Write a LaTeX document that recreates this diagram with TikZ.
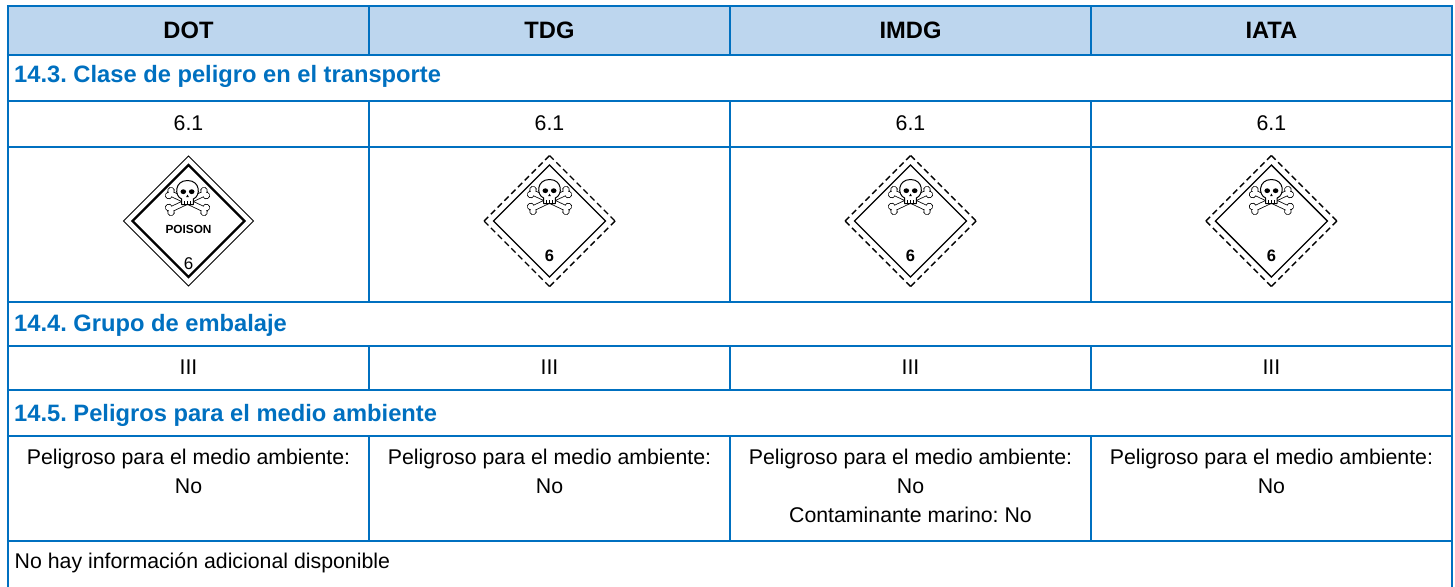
\documentclass[tikz,border=0pt]{standalone}
\usepackage{fontspec}
\setmainfont{Liberation Sans}
\frenchspacing
\definecolor{tblue}{RGB}{0,112,192}
\definecolor{hfill}{RGB}{189,214,238}
\tikzset{
  skullpic/.pic={
    \begin{scope}[yscale=-1]
      % bones: outline pass
      \foreach \ang in {25.4,-25.4}{
        \begin{scope}[shift={(0,-9.5)}, rotate=\ang]
          \foreach \sx in {-19.5,19.5}{\foreach \sy in {-2.6,2.6}{
            \filldraw[draw=black, fill=black, line width=1.6pt] (\sx,\sy) circle (2.9pt);}}
          \filldraw[draw=black, fill=black, line width=1.6pt] (-19.5,-2.1) rectangle (19.5,2.1);
        \end{scope}}
      % bones: white pass
      \foreach \ang in {25.4,-25.4}{
        \begin{scope}[shift={(0,-9.5)}, rotate=\ang]
          \foreach \sx in {-19.5,19.5}{\foreach \sy in {-2.6,2.6}{
            \fill[white] (\sx,\sy) circle (2.9pt);}}
          \fill[white] (-19.5,-2.1) rectangle (19.5,2.1);
        \end{scope}}
      % skull
      \filldraw[fill=white, draw=black, line width=1pt, line join=round]
        (-5.8,-12.5) -- (-5.8,-7) .. controls (-13.5,-4) and (-13,11.5) .. (0,11.5)
        .. controls (13,11.5) and (13.5,-4) .. (5.8,-7) -- (5.8,-12.5) -- cycle;
      \fill (-4.2,0.3) ellipse (2.8pt and 2.4pt);
      \fill (4.2,0.3) ellipse (2.8pt and 2.4pt);
      \fill (0,-2.6) -- (-1.3,-5) -- (1.3,-5) -- cycle;
      \draw[line width=0.7pt] (-2.8,-12.5) -- (-2.8,-9) (0,-12.5) -- (0,-9) (2.8,-12.5) -- (2.8,-9);
    \end{scope}
  },
  dotdiamond/.pic={
    \filldraw[fill=white, draw=black, line width=0.9pt] (0,-65) -- (65,0) -- (0,65) -- (-65,0) -- cycle;
    \draw[line width=2.2pt, line join=miter] (0,-56) -- (56,0) -- (0,56) -- (-56,0) -- cycle;
    \pic at (-1,-29) {skullpic};
    \node[font=\fontsize{11.8}{14}\selectfont\bfseries, inner sep=0pt] (-poison) at (0,8) {POISON};
    \node[font=\fontsize{17}{20}\selectfont, inner sep=0pt] (-num) at (0,42.5) {6};
  },
  undiamond/.pic={
    \fill[white] (0,-65.5) -- (65.5,0) -- (0,65.5) -- (-65.5,0) -- cycle;
    \draw[line width=1.4pt, dash pattern=on 6pt off 3.6pt] (0,-65.5) -- (65.5,0);
    \draw[line width=1.4pt, dash pattern=on 6pt off 3.6pt] (65.5,0) -- (0,65.5);
    \draw[line width=1.4pt, dash pattern=on 6pt off 3.6pt] (0,65.5) -- (-65.5,0);
    \draw[line width=1.4pt, dash pattern=on 6pt off 3.6pt] (-65.5,0) -- (0,-65.5);
    \draw[line width=1.3pt, line join=miter] (0,-56) -- (56,0) -- (0,56) -- (-56,0) -- cycle;
    \pic at (0,-30) {skullpic};
    \node[font=\fontsize{16.5}{20}\selectfont\bfseries, inner sep=0pt] (-num) at (0,35) {6};
  }
}
\begin{document}
\begin{tikzpicture}[x=1pt,y=-1pt,
  grid/.style={draw=tblue, line width=2.2pt},
  hdr/.style={anchor=base, font=\fontsize{23.7}{28}\selectfont\bfseries, inner sep=0pt},
  sec/.style={anchor=base west, font=\fontsize{23.7}{28}\selectfont\bfseries, text=tblue, inner sep=0pt},
  body/.style={anchor=base, font=\fontsize{21.3}{26}\selectfont, inner sep=0pt},
  bodyl/.style={anchor=base west, font=\fontsize{21.3}{26}\selectfont, inner sep=0pt}]
\useasboundingbox (0,0) rectangle (1455,586);
% header background
\fill[hfill] (8,6) rectangle (1451.7,55);
% horizontal rules
\foreach \yy in {6,55,100.7,146.7,302,346,390,435.7,540.7}{
  \draw[grid] (6.9,\yy) -- (1452.8,\yy);}
% outer verticals
\draw[grid] (8,6) -- (8,590);
\draw[grid] (1451.7,6) -- (1451.7,590);
% column dividers
\foreach \xx in {369,730,1091}{
  \draw[grid] (\xx,6) -- (\xx,55);
  \draw[grid] (\xx,100.7) -- (\xx,302);
  \draw[grid] (\xx,346) -- (\xx,390);
  \draw[grid] (\xx,435.7) -- (\xx,540.7);}
% header
\node[hdr] (hdot) at (188.5,38.3) {DOT};
\node[hdr] (htdg) at (549.5,38.3) {TDG};
\node[hdr] (himdg) at (910.5,38.3) {IMDG};
\node[hdr] (hiata) at (1271.4,38.3) {IATA};
% 14.3
\node[sec] (s143) at (14,82.7) {14.3. Clase de peligro en el transporte};
\node[body] (c1) at (188.5,130) {6.1};
\node[body] (c2) at (549.5,130) {6.1};
\node[body] (c3) at (910.5,130) {6.1};
\node[body] (c4) at (1271.4,130) {6.1};
\pic (dotsign) at (188.5,221) {dotdiamond};
\pic (tdgsign) at (549.5,221) {undiamond};
\pic (imdgsign) at (910.5,221) {undiamond};
\pic (iatasign) at (1271.4,221) {undiamond};
% 14.4
\node[sec] (s144) at (14,331.7) {14.4. Grupo de embalaje};
\node[body] (g1) at (188.5,374.3) {III};
\node[body] (g2) at (549.5,374.3) {III};
\node[body] (g3) at (910.5,374.3) {III};
\node[body] (g4) at (1271.4,374.3) {III};
% 14.5
\node[sec] (s145) at (14,421.7) {14.5. Peligros para el medio ambiente};
\node[body] (e1a) at (188.5,464.3) {Peligroso para el medio ambiente:};
\node[body] (e1b) at (188.5,493.3) {No};
\node[body] (e2a) at (549.5,464.3) {Peligroso para el medio ambiente:};
\node[body] (e2b) at (549.5,493.3) {No};
\node[body] (e3a) at (910.5,464.3) {Peligroso para el medio ambiente:};
\node[body] (e3b) at (910.5,493.3) {No};
\node[body] (e3c) at (910.5,522.3) {Contaminante marino: No};
\node[body] (e4a) at (1271.4,464.3) {Peligroso para el medio ambiente:};
\node[body] (e4b) at (1271.4,493.3) {No};
% last row
\node[bodyl] (info) at (14.5,568.7) {No hay información adicional disponible};
\end{tikzpicture}
\end{document}
